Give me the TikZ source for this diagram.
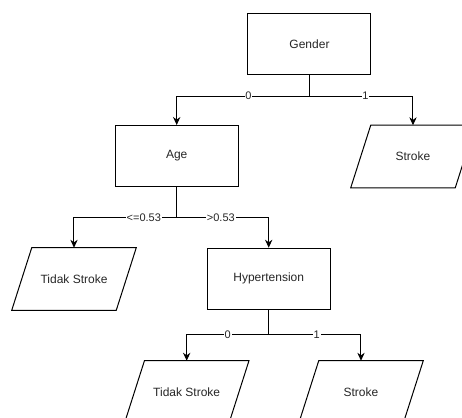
\documentclass[tikz,border=0pt]{standalone}
\usepackage{fontspec}
\setmainfont{Liberation Sans}
\usetikzlibrary{arrows.meta}
\begin{document}
\begin{tikzpicture}[x=0.75pt,y=-0.75pt,
  box/.style={draw, line width=0.75pt, minimum width=92.25pt, minimum height=45.75pt, inner sep=0pt, font=\fontsize{9pt}{11pt}\selectfont, text=black!85},
  iobox/.style={minimum width=78pt, minimum height=46.5pt, inner sep=0pt, font=\fontsize{9pt}{11pt}\selectfont, text=black!85},
  conn/.style={line width=0.75pt},
  arr/.style={line width=0.75pt, -{Stealth[length=6pt,width=5.5pt]}},
  lbl/.style={fill=white, inner sep=0.6pt, font=\fontsize{8.25pt}{10pt}\selectfont, text=black!85}]
\useasboundingbox (0,0) rectangle (462,418);
\clip (0,0) rectangle (462,418);
% nodes
\node[box] (gender) at (309.5,44) {Gender};
\node[box] (age) at (176.7,156) {Age};
\node[box] (hyp) at (268.7,278.7) {Hypertension};
\node[iobox] (s1) at (413,156.5) {Stroke};
\node[iobox] (t1) at (74,279) {Tidak Stroke};
\node[iobox] (t2) at (186.7,392) {Tidak Stroke};
\node[iobox] (s2) at (361,392) {Stroke};
\foreach \n in {s1,t1,t2,s2}
  \draw[line width=0.75pt] ([xshift=7.5pt]\n.north west) -- ([xshift=7.5pt]\n.north east)
    -- ([xshift=-7.5pt]\n.south east) -- ([xshift=-7.5pt]\n.south west) -- cycle;
% connectors
\draw[conn] (gender.south) -- ++(0,21) coordinate (g1);
\draw[arr] (g1) -| node[lbl,pos=0.23]{0} (age.north);
\draw[arr] (g1) -| node[lbl,pos=0.27]{1} (s1.north);
\draw[conn] (age.south) -- ++(0,30.7) coordinate (a1);
\draw[arr] (a1) -| node[lbl,pos=0.16]{<=0.53} (t1.north);
\draw[arr] (a1) -| node[lbl,pos=0.24]{>0.53} (hyp.north);
\draw[conn] (hyp.south) -- ++(0,25) coordinate (h1);
\draw[arr] (h1) -| node[lbl,pos=0.25]{0} (t2.north);
\draw[arr] (h1) -| node[lbl,pos=0.26]{1} (s2.north);
\end{tikzpicture}
\end{document}
